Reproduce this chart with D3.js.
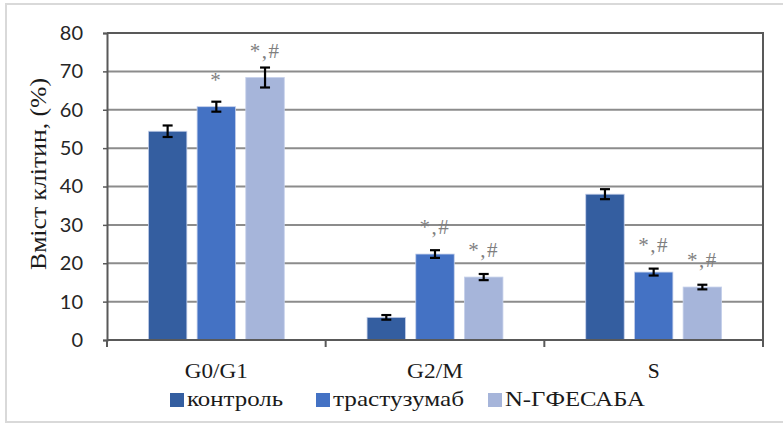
<!DOCTYPE html>
<html><head><meta charset="utf-8">
<script src="https://cdn.jsdelivr.net/npm/d3@7/dist/d3.min.js"></script>
<style>body{margin:0;background:#fff}svg{display:block}</style>
</head><body>
<svg id="c" width="783" height="424"></svg>
<script>
const categories = ["G0/G1", "G2/M", "S"];
const seriesNames = ["контроль", "трастузумаб", "N-ГФЕСАБА"];
const seriesColors = ["#345ea0", "#4472c4", "#a6b5da"];
const values = [
  [54.4, 60.8, 68.4],
  [5.9, 22.4, 16.4],
  [38.0, 17.7, 13.8]
];
const errors = [
  [1.5, 1.3, 2.6],
  [0.6, 1.0, 0.8],
  [1.3, 0.9, 0.6]
];
const marks = [
  ["", "*", "*,#"],
  ["", "*,#", "*,#"],
  ["", "*,#", "*,#"]
];
const yTicks = [0, 10, 20, 30, 40, 50, 60, 70, 80];
const yLabel = "Вміст клітин, (%)";

const svg = d3.select("#c");
const L = 107, R = 763, T = 33, B = 340;
const serif = "'Liberation Serif', 'Times New Roman', serif";

// outer frame
svg.append("rect").attr("x", 6).attr("y", 4).attr("width", 782).attr("height", 418)
  .attr("fill", "none").attr("stroke", "#d9d9d9").attr("stroke-width", 2);

const y = d3.scaleLinear().domain([0, 80]).range([B, T]);
const x0 = d3.scaleBand().domain(categories).range([L, R]).paddingInner(0).paddingOuter(0);
const x1 = d3.scaleBand().domain(seriesNames).range([0, x0.bandwidth()]).paddingInner(0.21).paddingOuter(0.85);

// gridlines
svg.append("g").selectAll("line").data(yTicks.filter(d => d > 0)).join("line")
  .attr("x1", L).attr("x2", R).attr("y1", d => y(d)).attr("y2", d => y(d))
  .attr("stroke", d => d === 80 ? "#595959" : "#8c8c8c").attr("stroke-width", 2);

// y axis
const yAxis = svg.append("g").attr("transform", `translate(${L},0)`)
  .call(d3.axisLeft(y).tickValues(yTicks).tickSize(4).tickPadding(20));
yAxis.select(".domain").attr("stroke", "#595959").attr("stroke-width", 2);
yAxis.selectAll(".tick line").attr("stroke", "#595959").attr("stroke-width", 1.5);
yAxis.selectAll("text").attr("font-family", "Lato, 'Noto Sans', sans-serif").attr("font-size", 20).attr("fill", "#262626");

// right border
svg.append("line").attr("x1", R).attr("x2", R).attr("y1", T - 1).attr("y2", B + 7)
  .attr("stroke", "#595959").attr("stroke-width", 2);

// bars
const groups = svg.append("g").selectAll("g").data(categories).join("g")
  .attr("transform", c => `translate(${x0(c)},0)`);

groups.each(function(c, ci) {
  const g = d3.select(this);
  seriesNames.forEach((s, si) => {
    const v = values[ci][si], e = errors[ci][si];
    const bx = x1(s), bw = x1.bandwidth(), cx = bx + bw / 2;
    g.append("rect").attr("x", bx).attr("y", y(v)).attr("width", bw).attr("height", y(0) - y(v))
      .attr("fill", seriesColors[si]).attr("stroke", "#c5d0ea").attr("stroke-width", 0.8);
    const eb = g.append("g").attr("stroke", "#000").attr("stroke-width", 2.2);
    eb.append("line").attr("x1", cx).attr("x2", cx).attr("y1", y(v - e)).attr("y2", y(v + e));
    eb.append("line").attr("x1", cx - 5).attr("x2", cx + 5).attr("y1", y(v - e)).attr("y2", y(v - e));
    eb.append("line").attr("x1", cx - 5).attr("x2", cx + 5).attr("y1", y(v + e)).attr("y2", y(v + e));
    if (marks[ci][si]) {
      g.append("text").attr("x", cx).attr("y", y(v) - 20).attr("text-anchor", "middle")
        .attr("font-family", serif).attr("font-size", 21)
        .attr("letter-spacing", 1.5)
        .attr("fill", "#7f7f7f").text(marks[ci][si]);
    }
  });
});

// x axis baseline
svg.append("line").attr("x1", L).attr("x2", R).attr("y1", B).attr("y2", B)
  .attr("stroke", "#595959").attr("stroke-width", 2);
const xAxis = svg.append("g").attr("transform", `translate(0,${B})`);
const sepPositions = categories.map(c => x0(c)).concat([R]);
xAxis.selectAll("line").data(sepPositions).join("line")
  .attr("x1", d => d).attr("x2", d => d).attr("y1", 0).attr("y2", 7)
  .attr("stroke", "#595959").attr("stroke-width", 2);
const catW = [63, 56, 12];
xAxis.selectAll("text").data(categories).join("text")
  .attr("x", (c, i) => x0(c) + x0.bandwidth() / 2 - catW[i] / 2).attr("y", 38)
  .attr("font-family", serif).attr("font-size", 21)
  .attr("textLength", (c, i) => catW[i]).attr("lengthAdjust", "spacingAndGlyphs")
  .attr("fill", "#1a1a1a").text(c => c);

// y label
svg.append("text").attr("transform", `translate(46,270) rotate(-90)`)
  .attr("font-family", serif).attr("font-size", 24)
  .attr("textLength", 192).attr("lengthAdjust", "spacingAndGlyphs")
  .attr("fill", "#1a1a1a").text(yLabel);

// legend
const legX = [170, 316, 488];
const legW = [96, 131, 140];
const leg = svg.append("g");
seriesNames.forEach((s, i) => {
  leg.append("rect").attr("x", legX[i]).attr("y", 393).attr("width", 14).attr("height", 14)
    .attr("fill", seriesColors[i]);
  leg.append("text").attr("x", legX[i] + 17).attr("y", 406)
    .attr("font-family", serif).attr("font-size", 21)
    .attr("textLength", legW[i]).attr("lengthAdjust", "spacingAndGlyphs")
    .attr("fill", "#1a1a1a").text(s);
});
</script>
</body></html>
